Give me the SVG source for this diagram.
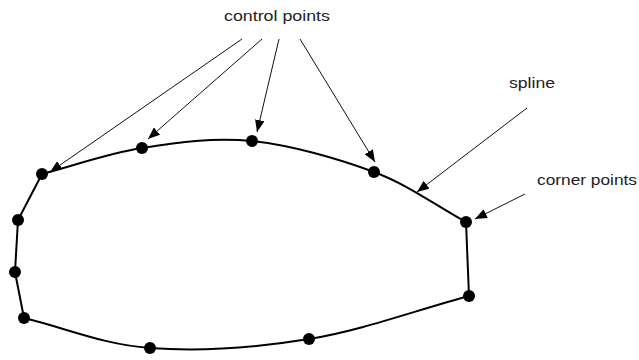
<svg xmlns="http://www.w3.org/2000/svg" width="639" height="360" viewBox="0 0 639 360">
<style>
.lbl{font-family:"Liberation Sans",Arial,sans-serif;font-size:14px;fill:#222}
.conn{stroke:#111;stroke-width:1;fill:none}
.spline{stroke:#000;stroke-width:2;fill:none;stroke-linejoin:round}
.pt{fill:#000}
</style>
<defs>
<marker id="ah" viewBox="0 0 10 8" refX="10" refY="4" markerWidth="12" markerHeight="9.6" markerUnits="userSpaceOnUse" orient="auto">
<path d="M0,0 L10,4 L0,8 Z" fill="#000"/>
</marker>
</defs>
<rect width="639" height="360" fill="#fff"/>
<g id="shape">
<path class="spline" d="M42,174 C75.3,165.3 107,153.5 142,148 C177,142.5 213.3,137 252,141 C290.7,145 338.3,158.5 374,172 C409.7,185.5 435.3,205.3 466,222 L469,296 C415.7,310.3 362.2,330.3 309,339 C255.8,347.7 197.5,351.5 150,348 C102.5,344.5 66,328 24,318 L15,272 L18,220 Z"/>
</g>
<g id="points">
<circle class="pt" cx="42" cy="174" r="6"/>
<circle class="pt" cx="142" cy="148" r="6"/>
<circle class="pt" cx="252" cy="141" r="6"/>
<circle class="pt" cx="374" cy="172" r="6"/>
<circle class="pt" cx="466" cy="222" r="6"/>
<circle class="pt" cx="469" cy="296" r="6"/>
<circle class="pt" cx="309" cy="339" r="6"/>
<circle class="pt" cx="150" cy="348" r="6"/>
<circle class="pt" cx="24" cy="318" r="6"/>
<circle class="pt" cx="15" cy="272" r="6"/>
<circle class="pt" cx="18" cy="220" r="6"/>
</g>
<g id="connectors">
<line class="conn" x1="242" y1="39" x2="50" y2="172" marker-end="url(#ah)"/>
<line class="conn" x1="262" y1="39" x2="148" y2="139" marker-end="url(#ah)"/>
<line class="conn" x1="279" y1="39" x2="257" y2="132" marker-end="url(#ah)"/>
<line class="conn" x1="300" y1="39" x2="375" y2="162" marker-end="url(#ah)"/>
<line class="conn" x1="527" y1="108" x2="417" y2="192" marker-end="url(#ah)"/>
<line class="conn" x1="525" y1="194" x2="475" y2="219" marker-end="url(#ah)"/>
</g>
<g id="label-control"><text class="lbl" x="224" y="21" textLength="106" lengthAdjust="spacingAndGlyphs">control points</text></g>
<g id="label-spline"><text class="lbl" x="509" y="88" textLength="46" lengthAdjust="spacingAndGlyphs">spline</text></g>
<g id="label-corner"><text class="lbl" x="537" y="185" textLength="100" lengthAdjust="spacingAndGlyphs">corner points</text></g>
</svg>
